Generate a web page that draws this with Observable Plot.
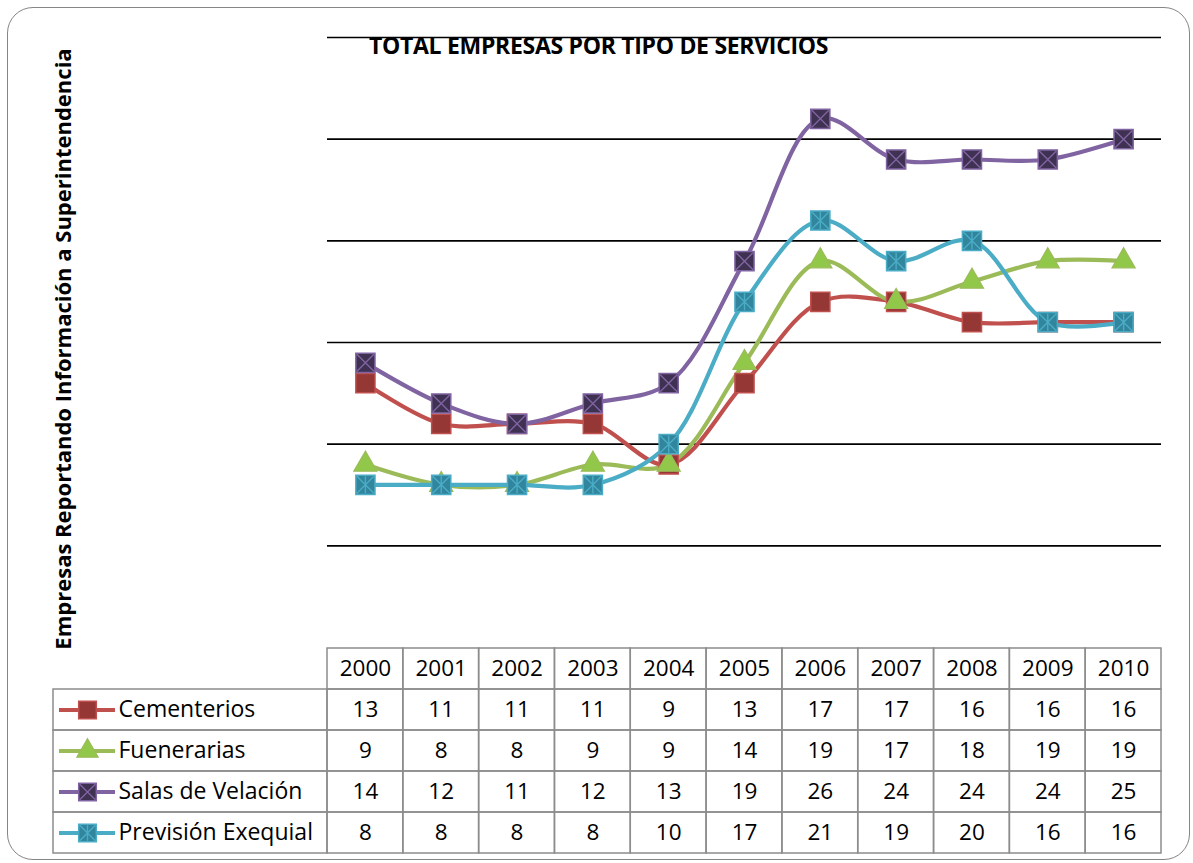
<!DOCTYPE html>
<html><head><meta charset="utf-8">
<script src="https://cdn.jsdelivr.net/npm/d3@7"></script>
<script src="https://cdn.jsdelivr.net/npm/@observablehq/plot@0.6"></script>
<style>
body{margin:0;background:#fff;}
#wrap{position:relative;width:1193px;height:863px;overflow:hidden;font-family:"Open Sans",sans-serif;background:#fff;}
#frame{position:absolute;left:7px;top:7px;width:1183px;height:853px;border:1.5px solid #868686;border-radius:26px;box-sizing:border-box;}
#chart{position:absolute;left:0;top:0;}
#table{position:absolute;left:0;top:646px;}
#title{position:absolute;left:369px;top:29px;font-weight:700;font-size:23px;color:#000;white-space:nowrap;letter-spacing:-0.3px;}
#ylabel{position:absolute;left:62px;top:349px;transform:translate(-50%,-50%) rotate(-90deg);font-weight:700;font-size:22px;white-space:nowrap;color:#000;}
</style></head>
<body><div id="wrap"><div id="frame"></div><div id="chart"></div><div id="table"></div>
<div id="title"></div><div id="ylabel"></div></div>
<script>
const titleText = "TOTAL EMPRESAS POR TIPO DE SERVICIOS";
const yLabelText = "Empresas Reportando Información a Superintendencia";
const years = [2000, 2001, 2002, 2003, 2004, 2005, 2006, 2007, 2008, 2009, 2010];
const seriesNames = ["Cementerios", "Fuenerarias", "Salas de Velación", "Previsión Exequial"];
const cementerios = [13, 11, 11, 11, 9, 13, 17, 17, 16, 16, 16];
const fuenerarias = [9, 8, 8, 9, 9, 14, 19, 17, 18, 19, 19];
const salas = [14, 12, 11, 12, 13, 19, 26, 24, 24, 24, 25];
const prevision = [8, 8, 8, 8, 10, 17, 21, 19, 20, 16, 16];
const gridValues = [5, 10, 15, 20, 25, 30];

document.getElementById("title").textContent = titleText;
document.getElementById("ylabel").textContent = yLabelText;

const valuesBySeries = [cementerios, fuenerarias, salas, prevision];
const data = [];
seriesNames.forEach((s, i) => years.forEach((yr, j) => data.push({series: s, year: yr, value: valuesBySeries[i][j]})));

// styles
const lineColor = {"Cementerios": "#C0504D", "Fuenerarias": "#9BBB59", "Salas de Velación": "#8064A2", "Previsión Exequial": "#4BACC6"};
const markFill = {"Cementerios": "#953735", "Fuenerarias": "#92C84A", "Salas de Velación": "#3F3151", "Previsión Exequial": "#31859C"};

const crossSym = {draw(ctx, size){ const r = Math.sqrt(size/Math.PI); ctx.moveTo(-r,-r); ctx.lineTo(r,r); ctx.moveTo(-r,r); ctx.lineTo(r,-r); }};
const starSym = {draw(ctx, size){ const r = Math.sqrt(size/Math.PI); ctx.moveTo(-r,-r); ctx.lineTo(r,r); ctx.moveTo(-r,r); ctx.lineTo(r,-r); ctx.moveTo(0,-r); ctx.lineTo(0,r); }};

function markerMarks(rows, xOpt, yOpt, scale = 1) {
  const out = [];
  for (const s of seriesNames) {
    const d = rows.filter(r => r.series === s);
    if (s === "Fuenerarias") {
      out.push(Plot.dot(d, {x: xOpt, y: yOpt, symbol: "triangle", r: 8.6 * scale, fill: markFill[s], stroke: lineColor[s], strokeWidth: 1.2}));
    } else {
      out.push(Plot.dot(d, {x: xOpt, y: yOpt, symbol: "square", r: 10.8 * scale, fill: markFill[s], stroke: lineColor[s], strokeWidth: 1.5}));
      if (s === "Salas de Velación") out.push(Plot.dot(d, {x: xOpt, y: yOpt, symbol: crossSym, r: 8.5 * scale, stroke: lineColor[s], strokeWidth: 1.4}));
      if (s === "Previsión Exequial") out.push(Plot.dot(d, {x: xOpt, y: yOpt, symbol: starSym, r: 8.5 * scale, stroke: lineColor[s], strokeWidth: 1.4}));
    }
  }
  return out;
}

const plotLeft = 327, plotRight = 1161, W = 1193;
const xDomain = [years[0] - 0.5, years[years.length - 1] + 0.5];

const lineMarks = [];
for (const s of seriesNames) {
  lineMarks.push(Plot.line(data.filter(r => r.series === s), {x: "year", y: "value", curve: "catmull-rom", stroke: lineColor[s], strokeWidth: 4.2}));
}

const chart = Plot.plot({
  width: W, height: 647,
  marginLeft: plotLeft, marginRight: W - plotRight, marginTop: 37, marginBottom: 0,
  x: {domain: xDomain, axis: null},
  y: {domain: [0, 30], axis: null},
  style: {background: "transparent", overflow: "visible"},
  marks: [
    Plot.ruleY(gridValues, {stroke: "#000", strokeWidth: 1.6}),
    ...lineMarks,
    ...markerMarks(data, "year", "value")
  ]
});
document.getElementById("chart").appendChild(chart);

// data table
const colPx = (plotRight - plotLeft) / years.length;
const toX = px => xDomain[0] + (px - plotLeft) / colPx;
const headerKey = "__header__";
const legendLeft = toX(53);
const legendRows = seriesNames.map(s => ({series: s, year: toX(87)}));
const border = {stroke: "#8C8C8C", strokeWidth: 1.5, fill: "none"};

const table = Plot.plot({
  width: W, height: 209,
  marginLeft: plotLeft, marginRight: W - plotRight, marginTop: 1, marginBottom: 2,
  x: {domain: xDomain, axis: null},
  y: {domain: [headerKey, ...seriesNames], axis: null, padding: 0},
  style: {background: "transparent", overflow: "visible", fontFamily: "Open Sans"},
  marks: [
    Plot.barX(years, {x1: d => d - 0.5, x2: d => d + 0.5, y: () => headerKey, ...border, inset: 0}),
    Plot.barX(data, {x1: d => d.year - 0.5, x2: d => d.year + 0.5, y: "series", ...border, inset: 0}),
    Plot.barX(seriesNames, {x1: () => legendLeft, x2: () => xDomain[0], y: d => d, ...border, inset: 0}),
    Plot.text(years, {x: d => d, y: () => headerKey, text: d => String(d), fontSize: 22.5, fill: "#000"}),
    Plot.text(data, {x: "year", y: "series", text: d => String(d.value), fontSize: 22.5, fill: "#000"}),
    Plot.ruleY(seriesNames, {y: d => d, x1: toX(59), x2: toX(115), stroke: d => lineColor[d], strokeWidth: 4.2}),
    ...markerMarks(legendRows, "year", "series", 0.92),
    Plot.text(seriesNames, {x: () => toX(118), y: d => d, text: d => d, textAnchor: "start", fontSize: 23, fill: "#000"})
  ]
});
document.getElementById("table").appendChild(table);
</script></body></html>
